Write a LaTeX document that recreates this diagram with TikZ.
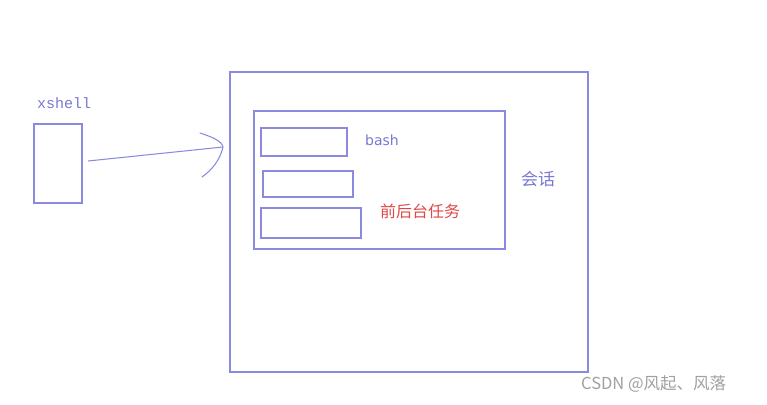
\documentclass[tikz,border=0pt]{standalone}
\usepackage{fontspec}
\setmainfont{DejaVu Sans}
\newfontfamily\cjk{Noto Sans CJK SC}
\newfontfamily\monof{Liberation Mono}
\definecolor{ln}{HTML}{8A8AE0}
\definecolor{tx}{HTML}{7878D4}
\definecolor{rd}{HTML}{E04848}
\definecolor{wm}{HTML}{A0A0A0}
\tikzset{
  box/.style={draw=ln, line width=1.05pt},
  lbl/.style={text=tx, inner sep=0pt, anchor=west},
}
\begin{document}
\begin{tikzpicture}[x=1pt,y=-1pt]
\useasboundingbox (0,0) rectangle (767,404);
\fill[white] (0,0) rectangle (767,404);
% xshell
\node[lbl, font=\monof\fontsize{15}{16}\selectfont] (xs) at (37,103) {xshell};
\draw[box] (34,124) rectangle (82,203);
\coordinate (xr) at (88,161);
% big session box
\draw[box] (230,72) rectangle (588,372);
\coordinate (tip) at (223,147);
\draw[ln, line width=1.05pt] (xr) -- (tip);
\draw[ln, line width=1.05pt, line cap=round] (200,133) .. controls (212,137) and (222,141) .. (tip) .. controls (220,160) and (212,170) .. (202,177);
% inner
\draw[box] (254,111) rectangle (505,249);
\draw[box] (261,128) rectangle (347,156);
\draw[box] (263,171) rectangle (353,197);
\draw[box] (261,208) rectangle (361,238);
\node[lbl, font=\fontsize{14}{15}\selectfont] (bash) at (365,140) {bash};
\node[lbl, text=rd, font=\cjk\fontsize{16}{18}\selectfont] (task) at (380,211) {前后台任务};
\node[lbl, font=\cjk\fontsize{17}{18}\selectfont] (sess) at (521,179) {会话};
\node[lbl, text=wm, font=\cjk\fontsize{16.5}{18}\selectfont] (wmk) at (581,384) {CSDN @风起、风落};
\end{tikzpicture}
\end{document}
